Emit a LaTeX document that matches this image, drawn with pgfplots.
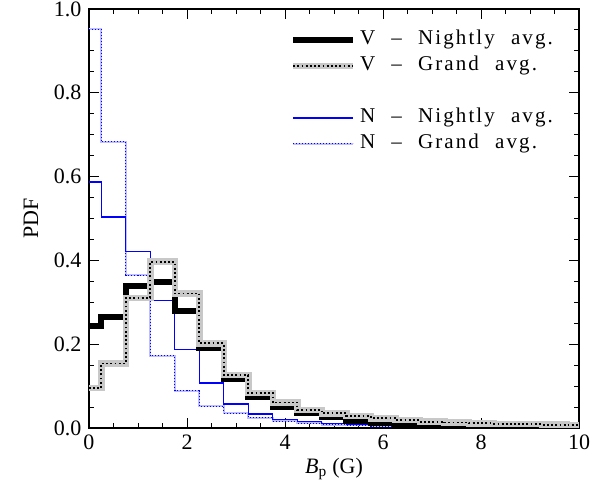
\documentclass[border=0pt]{standalone}
\usepackage{fontspec}
\setmainfont{Liberation Serif}
\newfontfamily\legfont[LetterSpace=10,WordSpace=2.2]{Liberation Serif}
\usepackage{pgfplots}
\pgfplotsset{compat=1.18}
\definecolor{lgray}{RGB}{200,200,200}
\definecolor{lblue}{RGB}{190,190,255}
\begin{document}
\begin{tikzpicture}[x=1pt,y=1pt]
\path[use as bounding box] (-89,-68) rectangle (504,428);
\begin{axis}[
  at={(0,0)}, anchor=south west,
  scale only axis, width=490pt, height=419pt,
  xmin=0, xmax=10, ymin=0, ymax=1,
  xtick={0,2,...,10}, minor x tick num=3,
  ytick={0,0.2,0.4,0.6,0.8,1.0}, minor y tick num=3,
  tick align=inside,
  major tick length=10pt, minor tick length=5pt,
  axis line style={line width=1.2pt},
  every tick/.style={line width=1pt, black},
  xticklabel style={/pgf/number format/fixed, /pgf/number format/precision=0},
  yticklabel style={/pgf/number format/fixed, /pgf/number format/fixed zerofill, /pgf/number format/precision=1},
  /pgf/number format/assume math mode=true,
  ticklabel style={font=\fontsize{22}{26}\selectfont},
  xticklabel style={yshift=-3pt},
  yticklabel style={xshift=-4pt},
  xlabel={{\itshape B}\textsubscript{p} (G)},
  ylabel={PDF},
  label style={font=\fontsize{22}{26}\selectfont},
  xlabel style={yshift=-2pt},
  ylabel style={yshift=9pt},
  legend style={draw=none, fill=none, at={(axis cs:4.1,0.958)}, anchor=north west,
    inner sep=0pt, row sep=0pt,
    nodes={font=\legfont\fontsize{21}{24}\selectfont, text height=14pt, text depth=4pt, inner sep=4pt}},
  legend cell align=left,
]
\addlegendimage{legend image code/.code={\draw[black,line width=6pt] (0pt,0pt) -- (60pt,0pt);}}
\addlegendentry{V – Nightly avg.}
\addlegendimage{legend image code/.code={\draw[lgray,line width=6pt] (0pt,0pt) -- (60pt,0pt);\draw[black,line width=1.8pt,dash pattern=on 1.8pt off 2.4pt] (0pt,0pt) -- (60pt,0pt);}}
\addlegendentry{V – Grand avg.}
\addlegendimage{empty legend}
\addlegendentry{}
\addlegendimage{legend image code/.code={\draw[blue,line width=1.4pt] (0pt,0pt) -- (60pt,0pt);}}
\addlegendentry{N – Nightly avg.}
\addlegendimage{legend image code/.code={\draw[lblue,line width=2pt] (0pt,0pt) -- (60pt,0pt);\draw[blue,line width=1pt,dash pattern=on 1pt off 2pt] (0pt,0pt) -- (60pt,0pt);}}
\addlegendentry{N – Grand avg.}

% N - Grand avg.
\addplot[forget plot, const plot mark mid, lblue, line width=2pt] coordinates {
(0,0.952) (0.5,0.683) (1,0.365) (1.5,0.172) (2,0.089) (2.5,0.052) (3,0.035) (3.5,0.025) (4,0.016) (4.5,0.011) (5,0.008) (5.5,0.006) (6,0.004) (6.5,0.003) (7,0.002) (7.5,0.002) (8,0.001) (8.5,0.001) (9,0.001) (9.5,0.001) (10,0.001)};
\addplot[forget plot, const plot mark mid, blue, line width=1pt, dash pattern=on 1pt off 2pt] coordinates {
(0,0.952) (0.5,0.683) (1,0.365) (1.5,0.172) (2,0.089) (2.5,0.052) (3,0.035) (3.5,0.025) (4,0.016) (4.5,0.011) (5,0.008) (5.5,0.006) (6,0.004) (6.5,0.003) (7,0.002) (7.5,0.002) (8,0.001) (8.5,0.001) (9,0.001) (9.5,0.001) (10,0.001)};
% N - Nightly avg.
\addplot[forget plot, const plot mark mid, blue, line width=1.4pt] coordinates {
(0,0.587) (0.5,0.504) (1,0.421) (1.5,0.305) (2,0.188) (2.5,0.107) (3,0.057) (3.5,0.033) (4,0.021) (4.5,0.015) (5,0.011) (5.5,0.008) (6,0.006) (6.5,0.004) (7,0.003) (7.5,0.002) (8,0.002) (8.5,0.001) (9,0.001) (9.5,0.001) (10,0.001)};
% V - Nightly avg.
\addplot[forget plot, const plot mark mid, black, line width=6pt] coordinates {
(0,0.244) (0.5,0.266) (1,0.339) (1.5,0.349) (2,0.280) (2.5,0.190) (3,0.117) (3.5,0.075) (4,0.049) (4.5,0.035) (5,0.026) (5.5,0.017) (6,0.011) (6.5,0.008) (7,0.006) (7.5,0.005) (8,0.004) (8.5,0.003) (9,0.003) (9.5,0.002) (10,0.002)};
% V - Grand avg.
\addplot[forget plot, const plot mark mid, lgray, line width=6.5pt] coordinates {
(0,0.095) (0.5,0.154) (1,0.310) (1.5,0.397) (2,0.321) (2.5,0.202) (3,0.126) (3.5,0.084) (4,0.061) (4.5,0.043) (5,0.035) (5.5,0.029) (6,0.023) (6.5,0.019) (7,0.015) (7.5,0.013) (8,0.011) (8.5,0.010) (9,0.009) (9.5,0.008) (10,0.007)};
\addplot[forget plot, const plot mark mid, black, line width=1.8pt, dash pattern=on 1.8pt off 2.4pt] coordinates {
(0,0.095) (0.5,0.154) (1,0.310) (1.5,0.397) (2,0.321) (2.5,0.202) (3,0.126) (3.5,0.084) (4,0.061) (4.5,0.043) (5,0.035) (5.5,0.029) (6,0.023) (6.5,0.019) (7,0.015) (7.5,0.013) (8,0.011) (8.5,0.010) (9,0.009) (9.5,0.008) (10,0.007)};
\end{axis}
\end{tikzpicture}
\end{document}
